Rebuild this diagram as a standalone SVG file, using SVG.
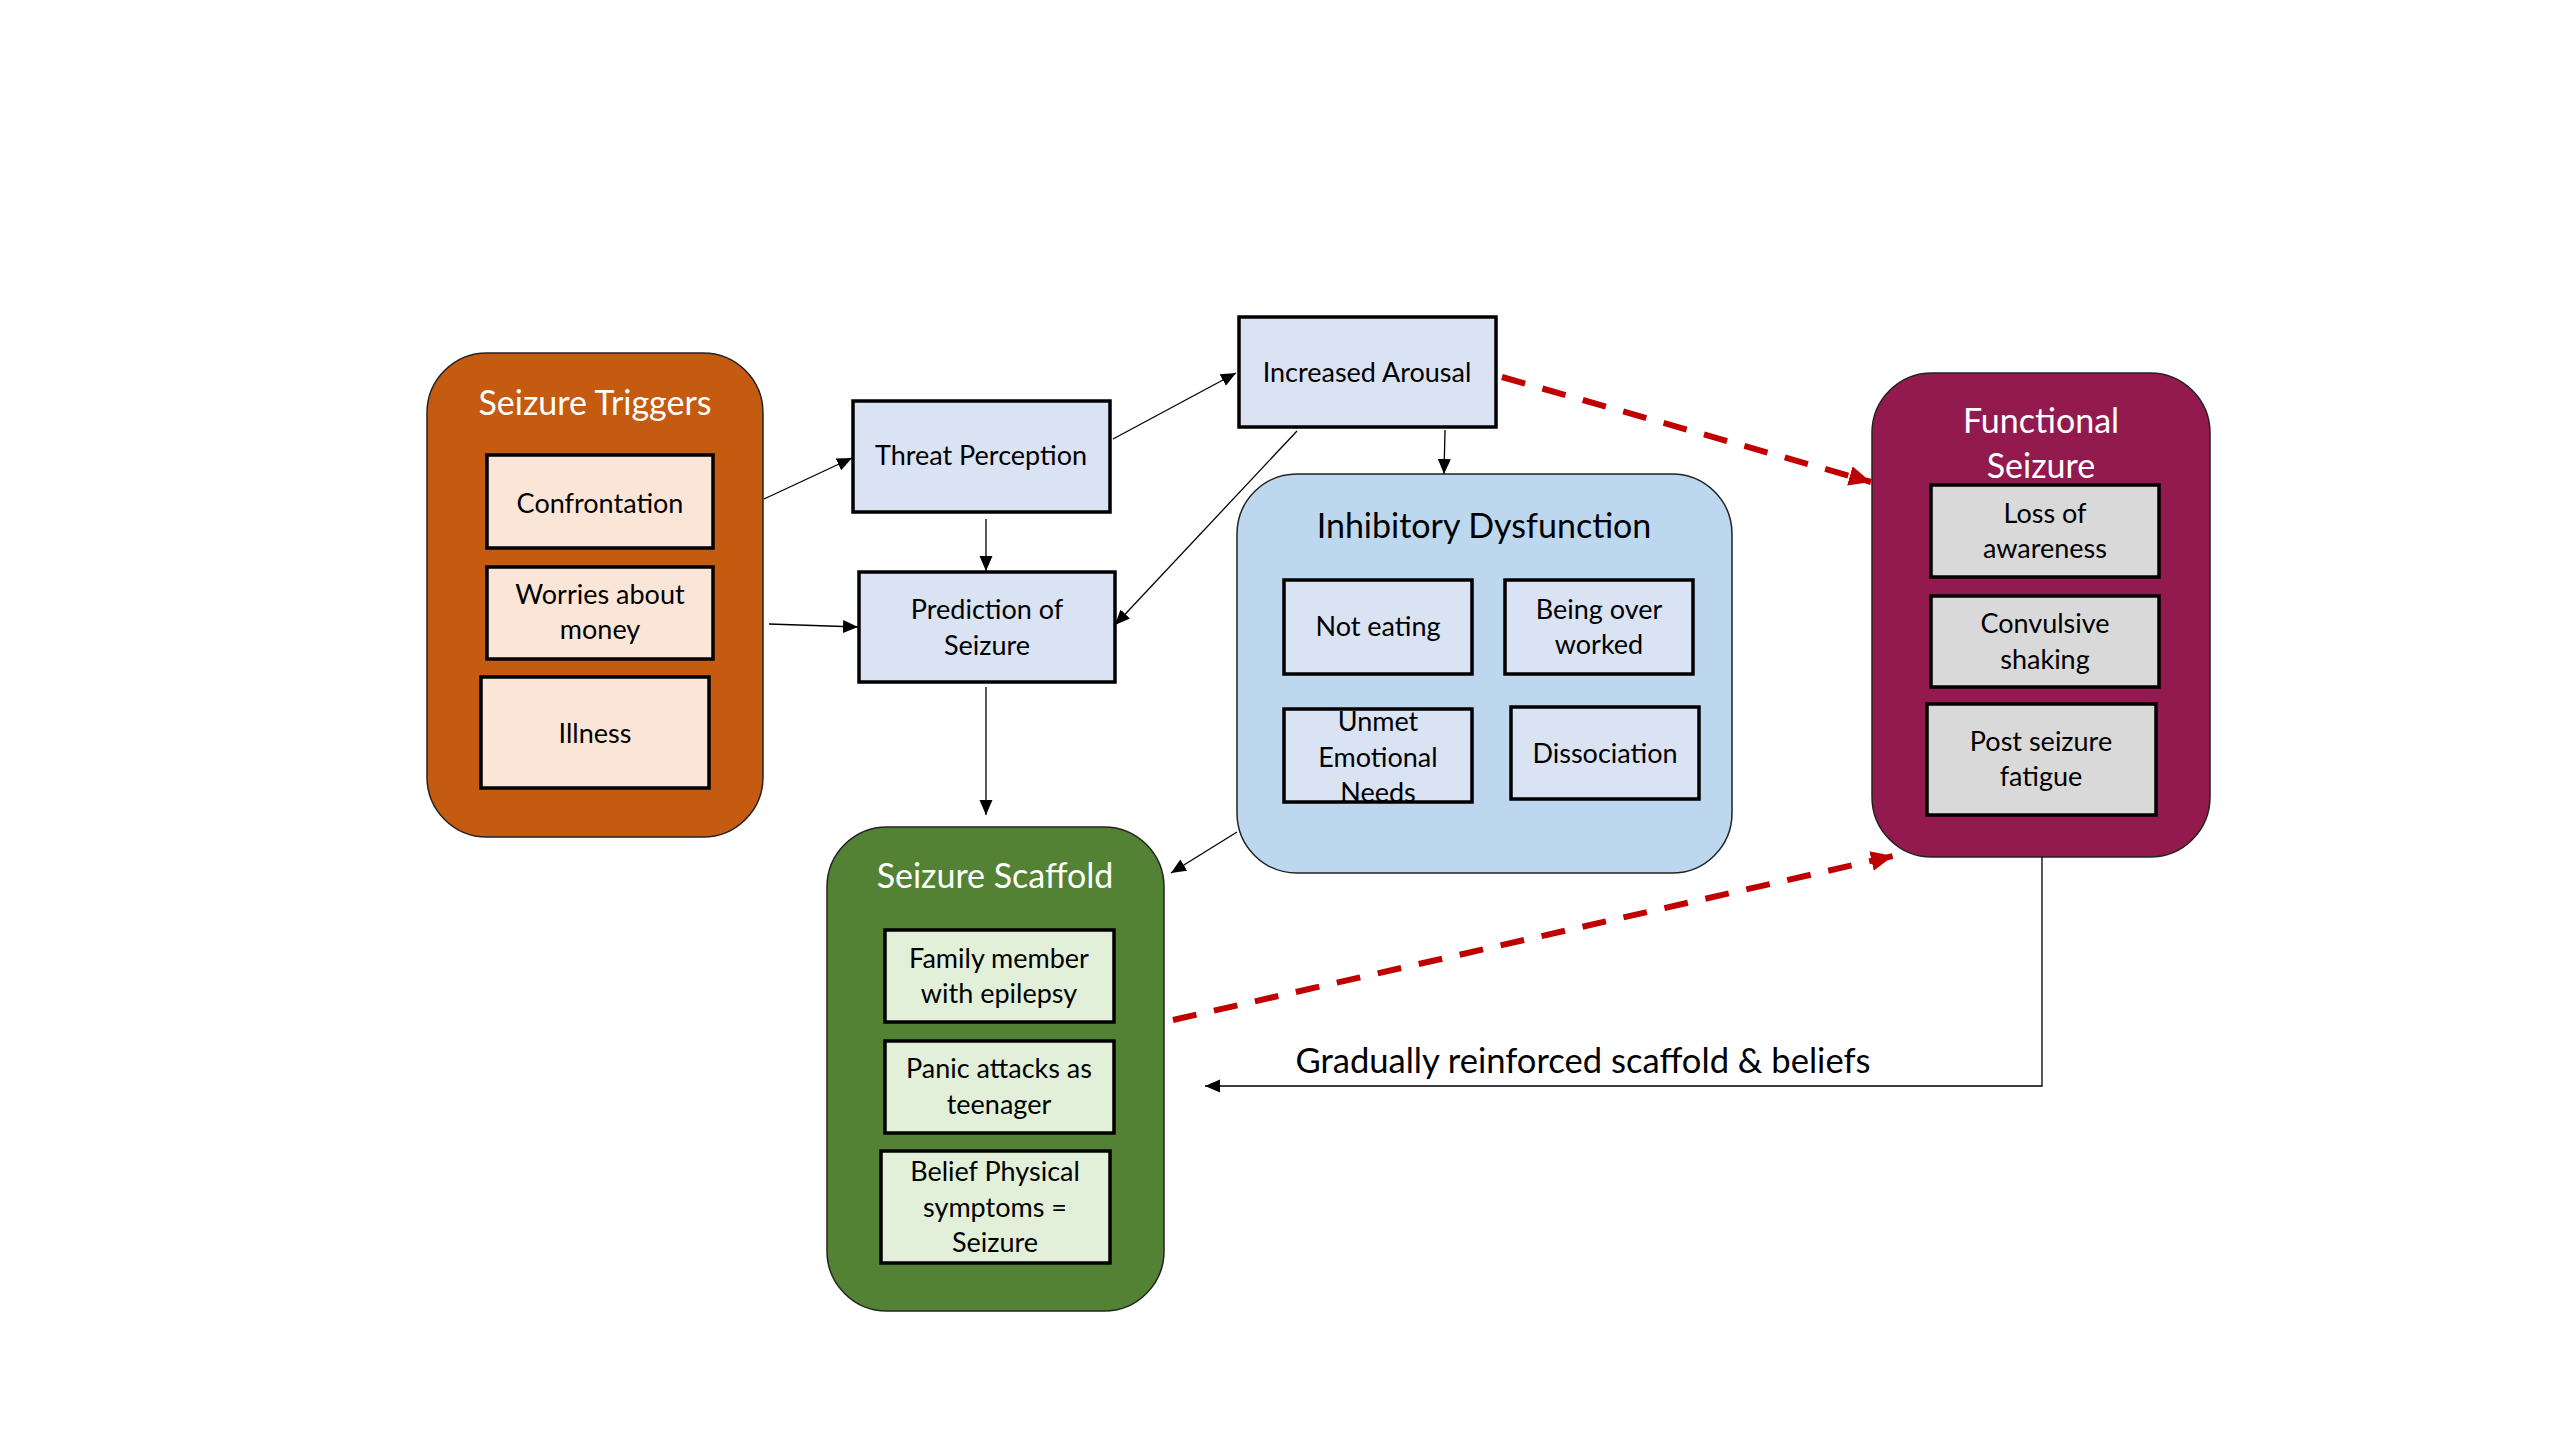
<svg xmlns="http://www.w3.org/2000/svg" width="2560" height="1440" viewBox="0 0 2560 1440">
<style>
text{font-family:Lato,"Open Sans","Liberation Sans",sans-serif;text-anchor:middle;fill:#000}
.t{font-size:27px}
.h{font-size:34px;fill:#fff}
.c{stroke:#222;stroke-width:1.5}
.b{stroke:#000;stroke-width:3.5}
.ln{stroke:#000;stroke-width:1.3;fill:none}
.rd{stroke:#C00000;stroke-width:6;stroke-dasharray:24 18;fill:none}
</style>
<defs>
<marker id="ab" markerUnits="userSpaceOnUse" markerWidth="16" markerHeight="14" refX="15" refY="6.5" orient="auto"><path d="M0,0 L15,6.5 L0,13 z" fill="#000"/></marker>
<marker id="ar" markerUnits="userSpaceOnUse" markerWidth="24" markerHeight="22" refX="22" refY="10" orient="auto"><path d="M0,0 L22,10 L0,20 z" fill="#C00000"/></marker>
</defs>
<rect width="2560" height="1440" fill="#fff"/>

<g id="seizure-triggers">
<rect class="c" x="427" y="353" width="336" height="484" rx="60" fill="#C55A11"/>
<text class="h" x="595" y="415">Seizure Triggers</text>
<rect class="b" x="487" y="455" width="226" height="93" fill="#FBE5D6"/>
<text class="t" x="600" y="513">Confrontation</text>
<rect class="b" x="487" y="567" width="226" height="92" fill="#FBE5D6"/>
<text class="t" x="600" y="604">Worries about</text>
<text class="t" x="600" y="639">money</text>
<rect class="b" x="481" y="677" width="228" height="111" fill="#FBE5D6"/>
<text class="t" x="595" y="743">Illness</text>
</g>

<g id="threat-perception">
<rect class="b" x="853" y="401" width="257" height="111" fill="#DAE3F3"/>
<text class="t" x="981" y="465">Threat Perception</text>
</g>

<g id="prediction-of-seizure">
<rect class="b" x="859" y="572" width="256" height="110" fill="#DAE3F3"/>
<text class="t" x="987" y="619">Prediction of</text>
<text class="t" x="987" y="655">Seizure</text>
</g>

<g id="increased-arousal">
<rect class="b" x="1239" y="317" width="257" height="110" fill="#DAE3F3"/>
<text class="t" x="1367" y="382">Increased Arousal</text>
</g>

<g id="inhibitory-dysfunction">
<rect class="c" x="1237" y="474" width="495" height="399" rx="60" fill="#BDD7EE"/>
<text x="1484" y="538" style="font-size:34px">Inhibitory Dysfunction</text>
<rect class="b" x="1284" y="580" width="188" height="94" fill="#DAE3F3"/>
<text class="t" x="1378" y="636">Not eating</text>
<rect class="b" x="1505" y="580" width="188" height="94" fill="#DAE3F3"/>
<text class="t" x="1599" y="619">Being over</text>
<text class="t" x="1599" y="654">worked</text>
<rect class="b" x="1284" y="709" width="188" height="93" fill="#DAE3F3"/>
<text class="t" x="1378" y="731">Unmet</text>
<text class="t" x="1378" y="767">Emotional</text>
<text class="t" x="1378" y="802">Needs</text>
<rect class="b" x="1511" y="707" width="188" height="92" fill="#DAE3F3"/>
<text class="t" x="1605" y="763">Dissociation</text>
</g>

<g id="functional-seizure">
<rect class="c" x="1872" y="373" width="338" height="484" rx="60" fill="#931A4E"/>
<text class="h" x="2041" y="433">Functional</text>
<text class="h" x="2041" y="478">Seizure</text>
<rect class="b" x="1931" y="485" width="228" height="92" fill="#D9D9D9"/>
<text class="t" x="2045" y="523">Loss of</text>
<text class="t" x="2045" y="558">awareness</text>
<rect class="b" x="1931" y="596" width="228" height="91" fill="#D9D9D9"/>
<text class="t" x="2045" y="633">Convulsive</text>
<text class="t" x="2045" y="669">shaking</text>
<rect class="b" x="1927" y="704" width="229" height="111" fill="#D9D9D9"/>
<text class="t" x="2041" y="751">Post seizure</text>
<text class="t" x="2041" y="786">fatigue</text>
</g>

<g id="seizure-scaffold">
<rect class="c" x="827" y="827" width="337" height="484" rx="60" fill="#548235"/>
<text class="h" x="995" y="888">Seizure Scaffold</text>
<rect class="b" x="885" y="930" width="229" height="92" fill="#E2F0D9"/>
<text class="t" x="999" y="968">Family member</text>
<text class="t" x="999" y="1003">with epilepsy</text>
<rect class="b" x="885" y="1041" width="229" height="92" fill="#E2F0D9"/>
<text class="t" x="999" y="1078">Panic attacks as</text>
<text class="t" x="999" y="1114">teenager</text>
<rect class="b" x="881" y="1151" width="229" height="112" fill="#E2F0D9"/>
<text class="t" x="995" y="1181">Belief Physical</text>
<text class="t" x="995" y="1217">symptoms =</text>
<text class="t" x="995" y="1252">Seizure</text>
</g>

<g id="connectors">
<line class="ln" x1="764" y1="499" x2="852" y2="458" marker-end="url(#ab)"/>
<line class="ln" x1="769" y1="624" x2="858" y2="627" marker-end="url(#ab)"/>
<line class="ln" x1="986" y1="519" x2="986" y2="571" marker-end="url(#ab)"/>
<line class="ln" x1="986" y1="687" x2="986" y2="815" marker-end="url(#ab)"/>
<line class="ln" x1="1113" y1="439" x2="1236" y2="373" marker-end="url(#ab)"/>
<line class="ln" x1="1297" y1="431" x2="1115" y2="625" marker-end="url(#ab)"/>
<line class="ln" x1="1445" y1="430" x2="1444" y2="474" marker-end="url(#ab)"/>
<line class="ln" x1="1237" y1="832" x2="1171" y2="873" marker-end="url(#ab)"/>
<line class="rd" x1="1502" y1="377" x2="1871" y2="482" marker-end="url(#ar)"/>
<line class="rd" x1="1173" y1="1020" x2="1893" y2="856" marker-end="url(#ar)"/>
<polyline class="ln" points="2042,857 2042,1086 1205,1086" marker-end="url(#ab)"/>
<text x="1583" y="1073" style="font-size:34.6px">Gradually reinforced scaffold &amp; beliefs</text>
</g>
</svg>
